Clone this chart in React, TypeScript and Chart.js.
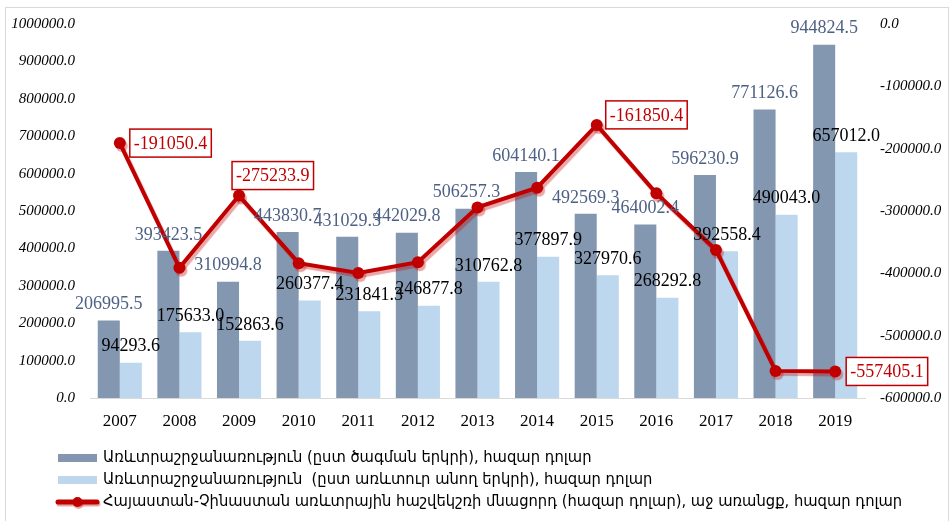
import React, { useEffect, useRef } from 'react';
import { Chart, registerables } from 'chart.js';

Chart.register(...registerables);

const years = ['2007', '2008', '2009', '2010', '2011', '2012', '2013', '2014', '2015', '2016', '2017', '2018', '2019'];
const turnoverByOrigin = [206995.5, 393423.5, 310994.8, 443830.7, 431029.3, 442029.8, 506257.3, 604140.1, 492569.3, 464002.4, 596230.9, 771126.6, 944824.5];
const turnoverByTrader = [94293.6, 175633.0, 152863.6, 260377.4, 231841.3, 246877.8, 310762.8, 377897.9, 327970.6, 268292.8, 392558.4, 490043.0, 657012.0];
const tradeBalance = [-191050.4, -391100.0, -275233.9, -383700.0, -399500.0, -382100.0, -294200.0, -262600.0, -161850.4, -271600.0, -362600.0, -556500.0, -557405.1];
const labelledBalanceIdx = [0, 2, 8, 12];

const legendTexts = [
  'Առևտրաշրջանառություն (ըստ ծագման երկրի), հազար դոլար',
  'Առևտրաշրջանառություն  (ըստ առևտուր անող երկրի), հազար դոլար',
  'Հայաստան-Չինաստան առևտրային հաշվեկշռի մնացորդ (հազար դոլար), աջ առանցք, հազար դոլար',
];

const DARK = '#8497B0';
const LIGHT = '#BDD7EE';
const RED = '#C00000';
const DARK_LABEL = '#4E6184';
const LABEL_FONT = "18px 'Liberation Serif'";
const LEGEND_FONT = "16.4px 'DejaVu Sans Condensed'";

const framePlugin = {
  id: 'frame',
  beforeDraw(chart: any) {
    const ctx = chart.ctx;
    ctx.save();
    ctx.fillStyle = '#ffffff';
    ctx.fillRect(0, 0, chart.width, chart.height);
    ctx.strokeStyle = '#D9D9D9';
    ctx.lineWidth = 1;
    ctx.strokeRect(5.5, 7.5, 943, 600);
    ctx.restore();
  },
};

const shadowPlugin = {
  id: 'lineShadow',
  beforeDatasetDraw(chart: any, args: any) {
    if (args.meta.type === 'line') {
      const ctx = chart.ctx;
      ctx.save();
      ctx.shadowColor = 'rgba(192,0,0,0.35)';
      ctx.shadowOffsetX = 2;
      ctx.shadowOffsetY = 3;
      ctx.shadowBlur = 1;
    }
  },
  afterDatasetDraw(chart: any, args: any) {
    if (args.meta.type === 'line') chart.ctx.restore();
  },
};

const labelPlugin = {
  id: 'valueLabels',
  afterDatasetsDraw(chart: any, _args: any, opts: any) {
    const ctx = chart.ctx;
    ctx.save();
    ctx.font = LABEL_FONT;
    ctx.textAlign = 'center';
    ctx.textBaseline = 'middle';
    [0, 1].forEach((di) => {
      const meta = chart.getDatasetMeta(di);
      const data = chart.data.datasets[di].data as number[];
      ctx.fillStyle = di === 0 ? DARK_LABEL : '#000000';
      meta.data.forEach((el: any, i: number) => {
        ctx.fillText(data[i].toFixed(1), el.x, el.y - 16);
      });
    });
    const lmeta = chart.getDatasetMeta(2);
    const ldata = chart.data.datasets[2].data as number[];
    const offsets = opts.offsets || {};
    labelledBalanceIdx.forEach((i) => {
      const el = lmeta.data[i];
      const txt = ldata[i].toFixed(1);
      const w = ctx.measureText(txt).width + 8;
      const h = 28;
      const off = offsets[i] || [10, 0];
      const left = el.x + off[0];
      const cy = el.y + off[1];
      ctx.fillStyle = '#ffffff';
      ctx.fillRect(left, cy - h / 2, w, h);
      ctx.strokeStyle = RED;
      ctx.lineWidth = 1.5;
      ctx.strokeRect(left, cy - h / 2, w, h);
      ctx.fillStyle = RED;
      ctx.textAlign = 'left';
      ctx.fillText(txt, left + 4, cy + 1);
    });
    ctx.restore();
  },
};

const legendPlugin = {
  id: 'customLegend',
  afterDraw(chart: any) {
    const ctx = chart.ctx;
    ctx.save();
    const rows = [458, 480, 502];
    ctx.font = LEGEND_FONT;
    ctx.textBaseline = 'middle';
    ctx.textAlign = 'left';
    rows.forEach((y, i) => {
      if (i === 0 || i === 1) {
        ctx.fillStyle = i === 0 ? DARK : LIGHT;
        ctx.fillRect(58, y - 4, 39, 8);
      } else {
        ctx.save();
        ctx.shadowColor = 'rgba(192,0,0,0.35)';
        ctx.shadowOffsetX = 1;
        ctx.shadowOffsetY = 2;
        ctx.strokeStyle = RED;
        ctx.lineWidth = 5;
        ctx.lineCap = 'round';
        ctx.beginPath();
        ctx.moveTo(58, y);
        ctx.lineTo(97, y);
        ctx.stroke();
        ctx.fillStyle = RED;
        ctx.beginPath();
        ctx.arc(77.5, y, 5, 0, Math.PI * 2);
        ctx.fill();
        ctx.restore();
      }
      ctx.fillStyle = '#000000';
      ctx.fillText(legendTexts[i], 103, y);
    });
    ctx.restore();
  },
};

export default function App() {
  const ref = useRef<HTMLCanvasElement>(null);
  useEffect(() => {
    if (!ref.current) return;
    const tickFont = { family: "'Liberation Serif', serif", size: 15, style: 'italic' as const, weight: 'normal' as const };
    const chart = new Chart(ref.current, {
      type: 'bar',
      data: {
        labels: years,
        datasets: [
          {
            type: 'bar',
            label: legendTexts[0],
            data: turnoverByOrigin,
            backgroundColor: DARK,
            yAxisID: 'y',
            order: 1,
            categoryPercentage: 0.74,
            barPercentage: 1.0,
          },
          {
            type: 'bar',
            label: legendTexts[1],
            data: turnoverByTrader,
            backgroundColor: LIGHT,
            yAxisID: 'y',
            order: 1,
            categoryPercentage: 0.74,
            barPercentage: 1.0,
          },
          {
            type: 'line',
            label: legendTexts[2],
            data: tradeBalance,
            borderColor: RED,
            backgroundColor: RED,
            borderWidth: 4,
            pointRadius: 6,
            pointBackgroundColor: RED,
            pointBorderColor: RED,
            pointBorderWidth: 0,
            yAxisID: 'y1',
            order: 0,
            tension: 0,
          } as any,
        ],
      },
      options: {
        responsive: false,
        animation: false,
        layout: { padding: { top: 18, bottom: 0, left: 0, right: 0 } },
        plugins: {
          legend: { display: false },
          tooltip: { enabled: false },
          valueLabels: { offsets: { 0: [10, 0], 2: [-7, -20], 8: [9, -10], 12: [11, 0] } },
        } as any,
        scales: {
          x: {
            grid: { display: false, drawTicks: false },
            border: { display: true, color: '#D9D9D9', width: 1 },
            ticks: { color: '#000000', font: { family: "'Liberation Serif'", size: 17 }, padding: 13 },
            afterFit(scale: any) {
              scale.height = 123;
            },
          },
          y: {
            position: 'left',
            min: 0,
            max: 1000000,
            grid: { display: false, drawTicks: false },
            border: { display: false },
            ticks: {
              stepSize: 100000,
              color: '#000000',
              font: tickFont,
              padding: 15,
              callback: (v: any) => Number(v).toFixed(1),
            },
            afterFit(scale: any) {
              scale.width = 90;
            },
          },
          y1: {
            position: 'right',
            min: -600000,
            max: 0,
            grid: { display: false, drawTicks: false },
            border: { display: false },
            ticks: {
              stepSize: 100000,
              color: '#000000',
              font: tickFont,
              padding: 15,
              callback: (v: any) => Number(v).toFixed(1),
            },
            afterFit(scale: any) {
              scale.width = 87;
            },
          },
        },
      } as any,
      plugins: [framePlugin, shadowPlugin, labelPlugin, legendPlugin],
    });
    return () => chart.destroy();
  }, []);
  return (
    <div style={{ position: 'absolute', left: 0, top: 0, width: 952, height: 521 }}>
      <canvas ref={ref} width={952} height={521} style={{ display: 'block', width: 952, height: 521 }} />
    </div>
  );
}
